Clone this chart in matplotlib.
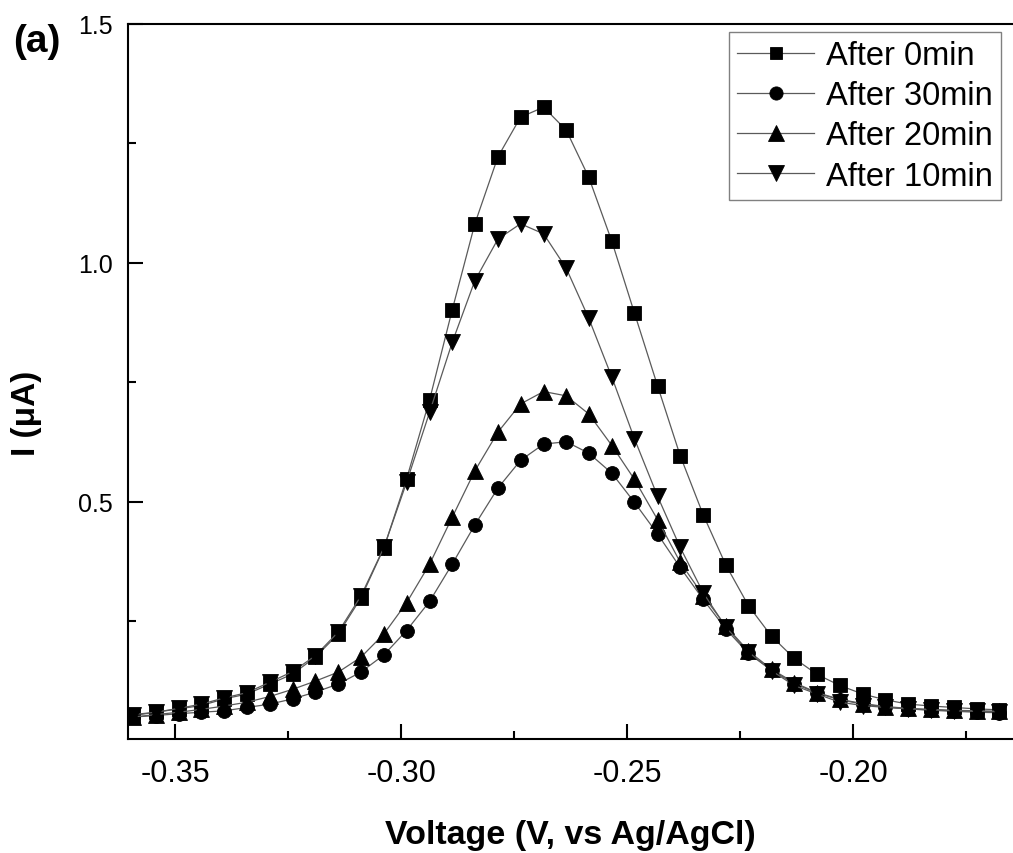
import matplotlib
matplotlib.use("Agg")
import matplotlib.pyplot as plt
from matplotlib.ticker import FixedLocator, FormatStrFormatter

plt.rcParams['font.family'] = ['Liberation Sans', 'DejaVu Sans']
plt.rcParams['axes.unicode_minus'] = False

voltage = [-0.3593, -0.3543, -0.3492, -0.3442, -0.3391, -0.3341, -0.3290, -0.3240,
           -0.3190, -0.3139, -0.3089, -0.3038, -0.2988, -0.2937, -0.2887, -0.2837,
           -0.2786, -0.2736, -0.2685, -0.2635, -0.2585, -0.2534, -0.2484, -0.2433,
           -0.2383, -0.2332, -0.2282, -0.2232, -0.2181, -0.2131, -0.2080, -0.2030,
           -0.1979, -0.1929, -0.1879, -0.1828, -0.1778, -0.1727, -0.1677]

after_0min = [0.053, 0.060, 0.067, 0.074, 0.088, 0.098, 0.119, 0.140, 0.175, 0.224,
              0.299, 0.404, 0.548, 0.714, 0.902, 1.082, 1.222, 1.305, 1.326, 1.278,
              1.179, 1.045, 0.895, 0.743, 0.597, 0.473, 0.368, 0.283, 0.219, 0.173,
              0.139, 0.116, 0.098, 0.086, 0.077, 0.073, 0.070, 0.067, 0.065]

after_30min = [0.050, 0.053, 0.057, 0.060, 0.063, 0.070, 0.077, 0.088, 0.102, 0.119,
               0.144, 0.180, 0.231, 0.292, 0.370, 0.452, 0.529, 0.587, 0.621, 0.626,
               0.602, 0.560, 0.499, 0.433, 0.363, 0.296, 0.234, 0.183, 0.148, 0.120,
               0.100, 0.086, 0.077, 0.071, 0.067, 0.064, 0.062, 0.060, 0.059]

after_20min = [0.050, 0.055, 0.060, 0.066, 0.073, 0.081, 0.093, 0.108, 0.125, 0.144,
               0.175, 0.224, 0.289, 0.370, 0.468, 0.565, 0.646, 0.705, 0.731, 0.722,
               0.684, 0.618, 0.547, 0.463, 0.374, 0.304, 0.240, 0.188, 0.150, 0.122,
               0.101, 0.087, 0.078, 0.072, 0.068, 0.066, 0.064, 0.063, 0.062]

after_10min = [0.055, 0.060, 0.068, 0.077, 0.090, 0.101, 0.123, 0.145, 0.178, 0.228,
               0.303, 0.405, 0.541, 0.688, 0.834, 0.963, 1.050, 1.082, 1.061, 0.989,
               0.884, 0.761, 0.632, 0.512, 0.405, 0.310, 0.238, 0.186, 0.147, 0.116,
               0.098, 0.081, 0.074, 0.070, 0.067, 0.065, 0.063, 0.062, 0.061]

labels = ["After 0min", "After 30min", "After 20min", "After 10min"]
series = [after_0min, after_30min, after_20min, after_10min]
markers = ["s", "o", "^", "v"]
msizes = [9.5, 10, 12, 12]

W, H = 1013, 854
fig = plt.figure(figsize=(W / 100, H / 100), dpi=100)
ax = fig.add_axes([128 / W, (H - 740) / H, (W - 128) / W, (740 - 25) / H])

for y, lab, m, ms in zip(series, labels, markers, msizes):
    ax.plot(voltage, y, color="#5a5a5a", lw=0.9, marker=m, ms=ms,
            mfc="black", mec="black", mew=0.6, label=lab)

ax.set_xlim(-0.3604, -0.1647)
ax.set_ylim(0.004, 1.5)

ax.xaxis.set_major_locator(FixedLocator([-0.35, -0.30, -0.25, -0.20]))
ax.xaxis.set_minor_locator(FixedLocator([-0.325, -0.275, -0.225, -0.175]))
ax.xaxis.set_major_formatter(FormatStrFormatter('%.2f'))
ax.yaxis.set_major_locator(FixedLocator([0.5, 1.0, 1.5]))
ax.yaxis.set_minor_locator(FixedLocator([0.25, 0.75, 1.25]))
ax.yaxis.set_major_formatter(FormatStrFormatter('%.1f'))

for s in ["left", "bottom", "top"]:
    ax.spines[s].set_linewidth(1.5)
ax.spines["right"].set_visible(False)

ax.tick_params(axis="both", which="major", direction="in", length=10.5, width=1.5)
ax.tick_params(axis="both", which="minor", direction="in", length=5.5, width=1.5)
ax.tick_params(axis="x", which="major", labelsize=22, pad=14)
ax.tick_params(axis="y", which="major", labelsize=18, pad=11)
ax.tick_params(top=False, right=False, which="both")

fig.text(570 / W, (H - 844) / H, "Voltage (V, vs Ag/AgCl)", ha="center",
         va="baseline", fontsize=24.5, fontweight="bold")
fig.text(27 / W, 1 - 413 / H, "I (\u03bcA)", ha="center", va="center",
         rotation=90, fontsize=24, fontweight="bold")
fig.text(13 / W, 1 - 52 / H, "(a)", ha="left", va="baseline",
         fontsize=28, fontweight="bold")

leg = ax.legend(loc="upper right", bbox_to_anchor=(1001 / W, 1 - 33 / H),
                bbox_transform=fig.transFigure, borderaxespad=0,
                fontsize=23.5, frameon=True, fancybox=False, framealpha=1,
                edgecolor="#808080", handlelength=2.35, handletextpad=0.37,
                borderpad=0.25, labelspacing=0.28, markerscale=0.95)
leg.get_frame().set_linewidth(1.0)

fig.savefig("out.png", dpi=100)
